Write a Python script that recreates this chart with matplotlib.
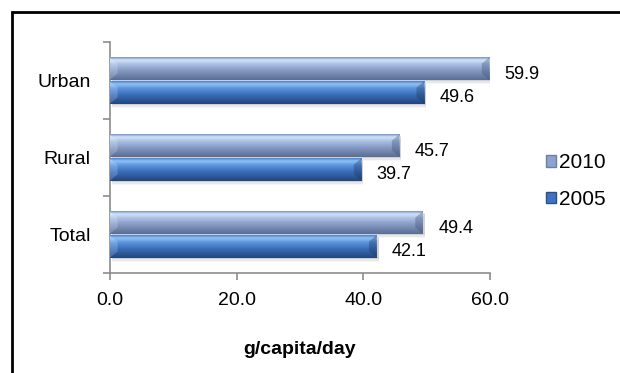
import numpy as np
import matplotlib.pyplot as plt
from matplotlib.colors import LinearSegmentedColormap
from matplotlib.patches import Rectangle, Patch, Polygon

plt.rcParams['font.family'] = ['Liberation Sans', 'DejaVu Sans']

categories = ['Total', 'Rural', 'Urban']
vals_2010 = [49.4, 45.7, 59.9]
vals_2005 = [42.1, 39.7, 49.6]
series = ['2010', '2005']
xticks = [0, 20, 40, 60]

# vertical shading for each series, top -> bottom
grad_2010 = LinearSegmentedColormap.from_list('g2010', [
    (0.0, '#7a92c6'), (0.12, '#d2e4f9'), (0.32, '#a8bee2'),
    (0.6, '#8498c1'), (1.0, '#5a6d95')])
grad_2005 = LinearSegmentedColormap.from_list('g2005', [
    (0.0, '#4a80d2'), (0.12, '#90c2f3'), (0.32, '#5a93dc'),
    (0.6, '#3a6db7'), (1.0, '#22467c')])

fig = plt.figure(figsize=(6.2, 3.73), dpi=100)
ax = fig.add_axes([110 / 620, 1 - 273 / 373, 380 / 620, 231 / 373])

y = np.arange(len(categories))
h = 0.29
off = 0.155

def shaded_bars(ypos, vals, cmap, edge):
    bars = ax.barh(ypos, vals, height=h, color='none', edgecolor='none', zorder=3)
    grad = np.linspace(0, 1, 64).reshape(-1, 1)
    for b in bars:
        x0, y0 = b.get_x(), b.get_y()
        w, hh = b.get_width(), b.get_height()
        # soft drop shadow
        for k, a in enumerate([0.10, 0.06, 0.03]):
            ax.add_patch(Rectangle((x0 + 0.3, y0 - 0.02 - 0.018 * k), w, hh,
                                   color='#000000', alpha=a, lw=0, zorder=2))
        im = ax.imshow(grad, cmap=cmap, aspect='auto', origin='upper',
                       extent=(x0, x0 + w, y0, y0 + hh), zorder=3,
                       interpolation='bilinear')
        im.set_clip_path(b)
        # bevelled ends
        d = 1.2
        ax.add_patch(Polygon([(x0 + w, y0), (x0 + w, y0 + hh), (x0 + w - d, y0 + hh * 0.72),
                              (x0 + w - d, y0 + hh * 0.28)], closed=True,
                             color=edge, alpha=0.35, lw=0, zorder=4))
        ax.add_patch(Polygon([(x0, y0), (x0, y0 + hh), (x0 + d, y0 + hh * 0.72),
                              (x0 + d, y0 + hh * 0.28)], closed=True,
                             color='white', alpha=0.18, lw=0, zorder=4))
    return bars

shaded_bars(y + off, vals_2010, grad_2010, '#3d4f73')
shaded_bars(y - off, vals_2005, grad_2005, '#1a3560')

for yy, v in zip(y + off, vals_2010):
    ax.annotate(f'{v:.1f}', (v, yy), xytext=(11, -4), textcoords='offset points',
                va='center', ha='left', fontsize=13)
for yy, v in zip(y - off, vals_2005):
    ax.annotate(f'{v:.1f}', (v, yy), xytext=(11, -4), textcoords='offset points',
                va='center', ha='left', fontsize=13)

ax.set_xlim(0, 60)
ax.set_ylim(-0.5, 2.5)
ax.set_xticks(xticks)
ax.set_xticklabels([f'{t:.1f}' for t in xticks], fontsize=14)
ax.set_yticks(y)
ax.set_yticklabels(categories, fontsize=14)
ax.set_yticks([-0.5, 0.5, 1.5, 2.5], minor=True)
ax.tick_params(axis='y', which='major', length=0, pad=14)
ax.tick_params(axis='y', which='minor', length=5, color='#8c8c8c', width=1.2)
ax.tick_params(axis='x', length=5, color='#8c8c8c', width=1.2, pad=9)
for s in ['top', 'right']:
    ax.spines[s].set_visible(False)
for s in ['left', 'bottom']:
    ax.spines[s].set_color('#8c8c8c')
    ax.spines[s].set_linewidth(1.2)

ax.set_xlabel('g/capita/day', fontsize=14, fontweight='bold', labelpad=23)

handles = [Patch(facecolor='#8ea3cc', edgecolor='#6a7ea8'),
           Patch(facecolor='#3f73bf', edgecolor='#2a4f8a')]
fig.legend(handles, series, loc='center left', bbox_to_anchor=(527 / 620, 1 - 181 / 373),
           frameon=False, fontsize=15, handlelength=0.5, handleheight=0.5,
           handletextpad=0.15, labelspacing=0.85)

# outer chart frame, clipped at right and bottom
fig.patches.append(Rectangle((12 / 620, -0.2), 1.2, 1.2 - 11.5 / 373,
                             transform=fig.transFigure, fill=False,
                             edgecolor='black', lw=2, zorder=10))

fig.savefig('out.png', dpi=100)
